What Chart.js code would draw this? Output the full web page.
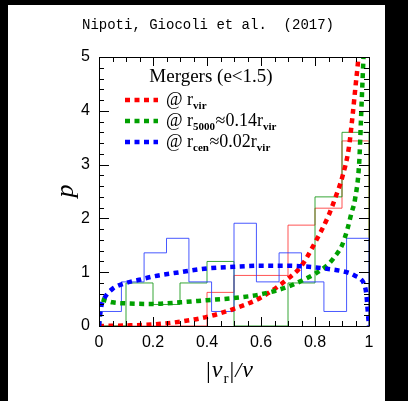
<!DOCTYPE html>
<html>
<head>
<meta charset="utf-8">
<style>
  html, body { margin: 0; padding: 0; background: #000; }
  #wrap { width: 408px; height: 401px; }
</style>
<script src="https://cdn.jsdelivr.net/npm/chart.js@4.4.0/dist/chart.umd.min.js"></script>
</head>
<body>
<div id="wrap"><canvas id="chart" width="408" height="401"></canvas></div>
<script>
// Histogram bins and values
const redBins = [0, 0.1, 0.2, 0.3, 0.4, 0.5, 0.6, 0.7, 0.8, 0.9, 1];
const redHist = [0, 0, 0, 0, 0.625, 0.94, 0.94, 1.875, 2.19, 3.44];
const greenBins = [0, 0.1, 0.2, 0.3, 0.4, 0.5, 0.6, 0.7, 0.8, 0.9, 1];
const greenHist = [0, 0.8, 0.4, 0.8, 1.2, 0, 0, 0.8, 2.4, 3.6];
const blueBins = [0, 0.083, 0.167, 0.25, 0.333, 0.417, 0.5, 0.583, 0.667, 0.75, 0.833, 0.917, 1];
const blueHist = [0.27, 0.82, 1.36, 1.63, 0.82, 0.27, 1.91, 0.82, 1.36, 0.82, 0.27, 1.63];

// Model curves (dotted)
const redCurveX = [0, 0.1, 0.2, 0.3, 0.4, 0.5, 0.6, 0.7, 0.75, 0.8, 0.85, 0.875, 0.9, 0.925, 0.94, 0.95, 0.96, 0.965];
const redCurveY = [0, 0.01, 0.03, 0.08, 0.17, 0.32, 0.53, 0.88, 1.12, 1.55, 2.05, 2.38, 2.75, 3.3, 3.95, 4.45, 4.95, 5.3];
const greenCurveX = [0, 0.004, 0.02, 0.05, 0.1, 0.2, 0.3, 0.4, 0.5, 0.6, 0.7, 0.75, 0.8, 0.85, 0.875, 0.9, 0.92, 0.935, 0.948, 0.964, 0.97, 0.975, 0.979, 0.982];
const greenCurveY = [0, 0.5, 0.48, 0.44, 0.42, 0.41, 0.44, 0.48, 0.52, 0.59, 0.73, 0.84, 0.97, 1.15, 1.3, 1.5, 1.8, 2.1, 2.35, 3.06, 3.8, 4.43, 4.93, 5.3];
const blueCurveX = [0, 0.004, 0.01, 0.02, 0.05, 0.1, 0.15, 0.2, 0.3, 0.4, 0.5, 0.6, 0.7, 0.8, 0.85, 0.9, 0.93, 0.95, 0.97, 0.98, 0.99, 0.995, 1];
const blueCurveY = [0, 0.2, 0.4, 0.52, 0.69, 0.8, 0.86, 0.92, 1.0, 1.07, 1.1, 1.12, 1.12, 1.09, 1.06, 1.02, 0.98, 0.93, 0.87, 0.8, 0.6, 0.3, 0];

// Axis ticks
const xTicks = [0, 0.2, 0.4, 0.6, 0.8, 1];
const xTickLabels = ['0', '0.2', '0.4', '0.6', '0.8', '1'];
const yTicks = [0, 1, 2, 3, 4, 5];
const yTickLabels = ['0', '1', '2', '3', '4', '5'];

const RED = '#ff0000', GREEN = '#00a000', BLUE = '#0000ff';

function stepPoints(bins, vals) {
  const n = vals.length;
  const pts = [{ x: bins[0], y: 0 }];
  vals.forEach((v, i) => pts.push({ x: bins[i], y: v }));
  pts.push({ x: bins[n], y: vals[n - 1] });
  pts.push({ x: bins[n], y: 0 });
  return pts;
}
function curvePoints(xs, ys) {
  return xs.map((x, i) => ({ x: x, y: ys[i] }));
}

function histSet(bins, vals, color) {
  return {
    data: stepPoints(bins, vals),
    borderColor: color,
    borderWidth: 1,
    stepped: 'before',
    pointRadius: 0,
    fill: false,
    order: 2
  };
}
function curveSet(xs, ys, color, order) {
  return {
    data: curvePoints(xs, ys),
    borderColor: color,
    borderWidth: 4.5,
    borderDash: [5, 4.5],
    borderCapStyle: 'butt',
    cubicInterpolationMode: 'monotone',
    pointRadius: 0,
    fill: false,
    order: order
  };
}

// Background, frame, inward ticks, legend and labels
const decor = {
  id: 'decor',
  beforeDraw(chart) {
    const ctx = chart.ctx;
    ctx.save();
    ctx.fillStyle = '#000';
    ctx.fillRect(0, 0, chart.width, chart.height);
    ctx.fillStyle = '#fff';
    ctx.fillRect(8, 5, 377, 396);
    ctx.restore();
  },
  afterDraw(chart) {
    const ctx = chart.ctx;
    const a = chart.chartArea;
    const xs = chart.scales.x, ys = chart.scales.y;
    ctx.save();
    ctx.strokeStyle = '#000';
    ctx.lineWidth = 1;
    ctx.beginPath();
    ctx.rect(Math.round(a.left) + 0.5, Math.round(a.top) + 0.5, Math.round(a.right - a.left), Math.round(a.bottom - a.top));
    ctx.stroke();

    ctx.beginPath();
    for (let i = 0; i <= 20; i++) {
      const v = i * 0.05;
      const px = Math.round(xs.getPixelForValue(v)) + 0.5;
      const len = (i % 4 === 0) ? 9 : 5;
      ctx.moveTo(px, a.bottom); ctx.lineTo(px, a.bottom - len);
      ctx.moveTo(px, a.top); ctx.lineTo(px, a.top + len);
    }
    for (let i = 0; i <= 25; i++) {
      const v = i * 0.2;
      const py = Math.round(ys.getPixelForValue(v)) + 0.5;
      const len = (i % 5 === 0) ? 10 : 5;
      ctx.moveTo(a.left, py); ctx.lineTo(a.left + len, py);
      ctx.moveTo(a.right, py); ctx.lineTo(a.right - len, py);
    }
    ctx.stroke();

    // title
    ctx.fillStyle = '#000';
    ctx.font = '14px "Liberation Mono"';
    ctx.textAlign = 'center';
    ctx.textBaseline = 'middle';
    ctx.fillText('Nipoti, Giocoli et al.  (2017)', 208, 25);

    // legend
    ctx.font = '19px "Liberation Serif"';
    ctx.fillText('Mergers (e<1.5)', 211, 77);
    ctx.textAlign = 'left';
    const rows = [
      { c: RED, y: 100, parts: [['@ r', 0], ['vir', 1]] },
      { c: GREEN, y: 121, parts: [['@ r', 0], ['5000', 1], ['\u22480.14r', 0], ['vir', 1]] },
      { c: BLUE, y: 142, parts: [['@ r', 0], ['cen', 1], ['\u22480.02r', 0], ['vir', 1]] }
    ];
    rows.forEach(r => {
      ctx.save();
      ctx.strokeStyle = r.c;
      ctx.lineWidth = 4.5;
      ctx.setLineDash([5, 4.5]);
      ctx.beginPath();
      ctx.moveTo(125, r.y); ctx.lineTo(158, r.y);
      ctx.stroke();
      ctx.restore();
      let x = 166;
      r.parts.forEach(p => {
        ctx.font = p[1] ? 'bold 11px "Liberation Serif"' : '18px "Liberation Serif"';
        ctx.fillText(p[0], x, r.y + (p[1] ? 6 : 0));
        x += ctx.measureText(p[0]).width + (p[1] ? 0.5 : 0);
      });
    });

    // x axis label |v_r|/v
    ctx.textBaseline = 'alphabetic';
    let x = 206;
    const base = 377;
    const lab = [['|', '24px "Liberation Serif"', 1], ['v', 'italic 24px "Liberation Serif"', 0],
      ['r', '15px "Liberation Serif"', 6], ['|', '24px "Liberation Serif"', 1],
      ['/', 'italic 22px "Liberation Serif"', 0], ['v', 'italic 24px "Liberation Serif"', 0]];
    lab.forEach(p => {
      ctx.font = p[1];
      ctx.fillText(p[0], x, base + p[2]);
      x += ctx.measureText(p[0]).width + 1;
    });

    // y axis label p
    ctx.save();
    ctx.translate(66, 191);
    ctx.rotate(-Math.PI / 2);
    ctx.font = 'italic 26px "Liberation Serif"';
    ctx.textAlign = 'center';
    ctx.textBaseline = 'middle';
    ctx.fillText('p', 0, 0);
    ctx.restore();
    ctx.restore();
  }
};

new Chart(document.getElementById('chart'), {
  type: 'line',
  data: {
    datasets: [
      curveSet(blueCurveX, blueCurveY, BLUE, 0),
      curveSet(greenCurveX, greenCurveY, GREEN, 0.5),
      curveSet(redCurveX, redCurveY, RED, 1),
      histSet(blueBins, blueHist, 'rgba(40,60,255,0.85)'),
      histSet(greenBins, greenHist, 'rgba(20,150,20,0.85)'),
      histSet(redBins, redHist, 'rgba(255,40,40,0.8)')
    ]
  },
  options: {
    responsive: false,
    animation: false,
    layout: { padding: { left: 0, top: 57, right: 39, bottom: 0 } },
    plugins: { legend: { display: false }, tooltip: { enabled: false } },
    scales: {
      x: {
        type: 'linear', min: 0, max: 1,
        grid: { display: false, drawTicks: false },
        border: { display: false },
        afterFit(s) { s.height = 75; },
        afterBuildTicks(s) { s.ticks = xTicks.map(v => ({ value: v })); },
        ticks: {
          padding: 7,
          color: '#000',
          font: { family: '"Liberation Sans"', size: 16 },
          maxRotation: 0,
          callback: (v) => xTickLabels[xTicks.indexOf(v)]
        }
      },
      y: {
        type: 'linear', min: 0, max: 5,
        grid: { display: false, drawTicks: false },
        border: { display: false },
        afterFit(s) { s.width = 99; },
        afterBuildTicks(s) { s.ticks = yTicks.map(v => ({ value: v })); },
        ticks: {
          padding: 9,
          color: '#000',
          font: { family: '"Liberation Sans"', size: 16 },
          callback: (v) => yTickLabels[yTicks.indexOf(v)]
        }
      }
    }
  },
  plugins: [decor]
});
</script>
</body>
</html>
